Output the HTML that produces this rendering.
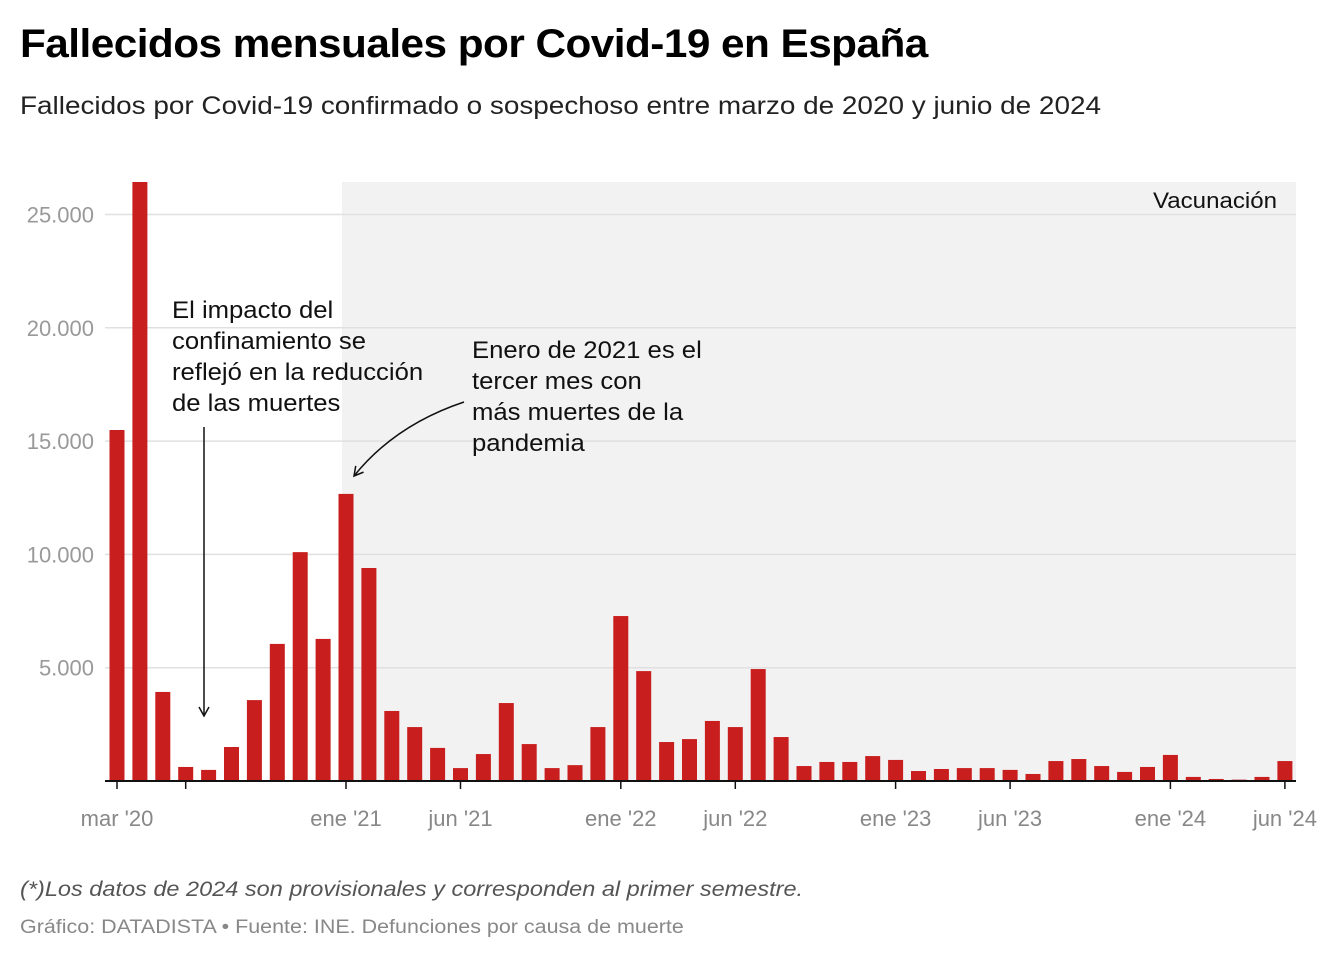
<!DOCTYPE html>
<html><head><meta charset="utf-8">
<style>
body{margin:0;background:#fff;font-family:"Liberation Sans",sans-serif;}
#wrap{position:relative;width:1340px;height:962px;overflow:hidden;}
h1{position:absolute;left:20px;top:22px;margin:0;font-size:40px;font-weight:bold;color:#000;letter-spacing:-0.5px;transform:scaleX(1.057);transform-origin:left;white-space:nowrap;}
.sub{position:absolute;left:20px;top:92px;font-size:25px;color:#222;transform:scaleX(1.116);transform-origin:left;white-space:nowrap;}
.note{position:absolute;left:20px;top:878px;font-size:21px;font-style:italic;color:#555;transform:scaleX(1.12);transform-origin:left;white-space:nowrap;}
.src{position:absolute;left:20px;top:917px;font-size:19px;color:#888;transform:scaleX(1.13);transform-origin:left;white-space:nowrap;}
svg{position:absolute;left:0;top:0;}
</style></head><body>
<div id="wrap">
<h1>Fallecidos mensuales por Covid-19 en España</h1>
<div class="sub">Fallecidos por Covid-19 confirmado o sospechoso entre marzo de 2020 y junio de 2024</div>
<svg id="chart" width="1340" height="962"></svg>
<div class="note">(*)Los datos de 2024 son provisionales y corresponden al primer semestre.</div>
<div class="src">Gráfico: DATADISTA • Fuente: INE. Defunciones por causa de muerte</div>
</div>
<script>
const months=["mar 20","abr 20","may 20","jun 20","jul 20","ago 20","sep 20","oct 20","nov 20","dic 20","ene 21","feb 21","mar 21","abr 21","may 21","jun 21","jul 21","ago 21","sep 21","oct 21","nov 21","dic 21","ene 22","feb 22","mar 22","abr 22","may 22","jun 22","jul 22","ago 22","sep 22","oct 22","nov 22","dic 22","ene 23","feb 23","mar 23","abr 23","may 23","jun 23","jul 23","ago 23","sep 23","oct 23","nov 23","dic 23","ene 24","feb 24","mar 24","abr 24","may 24","jun 24"];
const deaths=[15490,26500,3930,620,490,1500,3570,6050,10100,6270,12670,9400,3090,2380,1460,570,1190,3440,1630,570,700,2380,7280,4850,1720,1850,2650,2380,4940,1940,660,840,840,1100,930,440,530,570,570,490,310,880,970,660,400,620,1150,180,90,60,180,880];
const yTicks=[5000,10000,15000,20000,25000];
const yTickLabels=["5.000","10.000","15.000","20.000","25.000"];
const xTickIdx=[0,3,10,15,22,27,34,39,46,51];
const xTickLabels=["mar '20","","ene '21","jun '21","ene '22","jun '22","ene '23","jun '23","ene '24","jun '24"];
const vaccStart=10;

const NS="http://www.w3.org/2000/svg";
const svg=document.getElementById('chart');
const x0=117,step=22.9,bw=15,yBase=781,pxPer=113.3/5000,plotTop=182,plotRight=1296;
const xs=i=>x0+i*step;
const ys=v=>Math.max(plotTop,yBase-v*pxPer);
function mk(tag,attrs,parent){const e=document.createElementNS(NS,tag);for(const k in attrs)e.setAttribute(k,attrs[k]);(parent||svg).appendChild(e);return e;}

const sx=xs(vaccStart)-4;
const shade=mk('rect',{x:sx,y:plotTop,width:plotRight-sx,height:yBase-plotTop,fill:'#f2f2f2'});


const vt=mk('text',{x:1153,y:208,'font-size':22,fill:'#111',textLength:124,lengthAdjust:'spacingAndGlyphs'});vt.textContent='Vacunación';



yTicks.forEach((t,i)=>{
 const g=mk('line',{x1:105,x2:plotRight,y1:ys(t),y2:ys(t),stroke:'#e0e0e0','stroke-width':1.5});
 
 
 const l=mk('text',{x:94,y:ys(t)+8,'text-anchor':'end','font-size':22,fill:'#999'});l.textContent=yTickLabels[i];
 
 
});

deaths.forEach((v,i)=>{
 const r=mk('rect',{x:xs(i)-bw/2,y:ys(v),width:bw,height:yBase-ys(v),fill:'#c81e1e'});
 
 
});

const ax=mk('line',{x1:105,x2:plotRight,y1:yBase,y2:yBase,stroke:'#111','stroke-width':2});


xTickIdx.forEach((idx,i)=>{
 const t=mk('line',{x1:xs(idx),x2:xs(idx),y1:yBase,y2:yBase+8,stroke:'#111','stroke-width':1.5});
 
 
 if(xTickLabels[i]){const l=mk('text',{x:xs(idx),y:826,'text-anchor':'middle','font-size':22,fill:'#888'});l.textContent=xTickLabels[i];
 
 }
});

function multi(lines,x,y,name){const t=mk('text',{x:x,y:y,'font-size':24,fill:'#111',transform:`translate(${x},0) scale(1.07,1) translate(${-x},0)`});lines.forEach((s,i)=>{const sp=mk('tspan',{x:x,dy:i?31:0},t);sp.textContent=s;});
 
 }
multi(["El impacto del","confinamiento se","reflejó en la reducción","de las muertes"],172,318,'annotation-lockdown');
multi(["Enero de 2021 es el","tercer mes con","más muertes de la","pandemia"],472,358,'annotation-january-2021');
const defs=mk('defs',{});
const m=mk('marker',{id:'ar',markerWidth:12,markerHeight:12,refX:10,refY:6,orient:'auto',markerUnits:'userSpaceOnUse'},defs);
mk('path',{d:'M1,1 L10,6 L1,11',fill:'none',stroke:'#111','stroke-width':1.5},m);
const a1=mk('line',{x1:204,y1:427,x2:204,y2:716,stroke:'#111','stroke-width':1.5,'marker-end':'url(#ar)'});


const a2=mk('path',{d:'M464,402 Q395,425 354,476',fill:'none',stroke:'#111','stroke-width':1.5,'marker-end':'url(#ar)'});


</script>
</body></html>
